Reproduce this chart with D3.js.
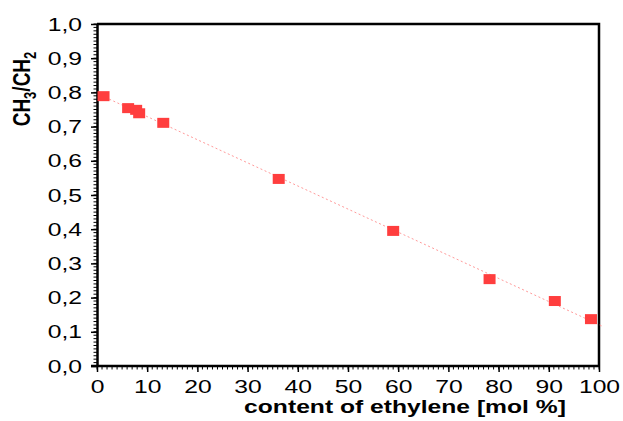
<!DOCTYPE html>
<html>
<head>
<meta charset="utf-8">
<script src="https://cdn.jsdelivr.net/npm/d3@7"></script>
<style>
  body { margin: 0; background: #fff; }
  text { font-family: "Liberation Sans", Arial, sans-serif; fill: #000; }
  .tick-label { font-size: 19px; }
  .axis-title { font-size: 19px; font-weight: bold; }
</style>
</head>
<body>
<svg id="chart" width="623" height="421"></svg>
<script>
// values
const ethylene = [1.3, 6.2, 7.8, 8.4, 13.2, 36.2, 59.0, 78.2, 91.2, 98.4];
const ratio    = [0.789, 0.754, 0.749, 0.739, 0.711, 0.547, 0.395, 0.254, 0.190, 0.137];
const xTicks = [0, 10, 20, 30, 40, 50, 60, 70, 80, 90, 100];
const yTicks = [0, 0.1, 0.2, 0.3, 0.4, 0.5, 0.6, 0.7, 0.8, 0.9, 1.0];
const fitRange = [0, 100.6];

// the original figure is stretched sideways, text too
const stretch = 1.3;

const svg = d3.select("#chart");
const x = d3.scaleLinear().domain([0, 100]).range([97, 599]);
const y = d3.scaleLinear().domain([0, 1]).range([366, 24]);

// least squares fit through the points
const n = ethylene.length;
const mx = d3.mean(ethylene), my = d3.mean(ratio);
let sxy = 0, sxx = 0;
for (let i = 0; i < n; i++) {
    sxy += (ethylene[i] - mx) * (ratio[i] - my);
    sxx += (ethylene[i] - mx) * (ethylene[i] - mx);
}
const slope = sxy / sxx, icpt = my - slope * mx;

// frame (top and right)
svg.append("path")
    .attr("d", `M${x(0)},${y(1)}H${x(100)}V${y(0)}`)
    .attr("fill", "none").attr("stroke", "#000").attr("stroke-width", 2.5);

// fit line
svg.append("line")
    .attr("x1", x(fitRange[0])).attr("y1", y(icpt + slope * fitRange[0]))
    .attr("x2", x(fitRange[1])).attr("y2", y(icpt + slope * fitRange[1]))
    .attr("stroke", "#ff9a9a").attr("stroke-width", 1)
    .attr("stroke-dasharray", "2,2.5");

// minor ticks
const xMinor = d3.range(0, 101, 1);
const yMinor = d3.range(0, 101, 1).map(d => d / 100);
svg.append("g").selectAll("line").data(xMinor).enter().append("line")
    .attr("x1", d => x(d)).attr("x2", d => x(d))
    .attr("y1", y(0)).attr("y2", y(0) + 3.5)
    .attr("stroke", "#000").attr("stroke-width", 1);
svg.append("g").selectAll("line").data(yMinor).enter().append("line")
    .attr("y1", d => y(d)).attr("y2", d => y(d))
    .attr("x1", x(0)).attr("x2", x(0) - 3.5)
    .attr("stroke", "#000").attr("stroke-width", 1);

// axes
const fmt = d => d3.format(".1f")(d).replace(".", ",");
const xAxis = svg.append("g").attr("transform", `translate(0,${y(0)})`)
    .call(d3.axisBottom(x).tickValues(xTicks).tickSize(6).tickPadding(7.5).tickSizeOuter(0));
const yAxis = svg.append("g").attr("transform", `translate(${x(0)},0)`)
    .call(d3.axisLeft(y).tickValues(yTicks).tickFormat(fmt).tickSize(6).tickPadding(9).tickSizeOuter(0));
[xAxis, yAxis].forEach(g => {
    g.select(".domain").attr("stroke-width", 2.5);
    g.selectAll(".tick line").attr("stroke-width", 1.5);
    g.selectAll(".tick text").attr("class", "tick-label")
        .attr("font-family", null).attr("font-size", null)
        .attr("transform", `scale(${stretch},1)`);
});
yAxis.selectAll(".tick text").attr("x", -15 / stretch);
xAxis.select(".domain").attr("d", `M${x(0) - 6},0H${x(100)}`);

// points
svg.append("g").selectAll("rect").data(ethylene).enter().append("rect")
    .attr("x", d => x(d) - 6)
    .attr("y", (d, i) => y(ratio[i]) - 5)
    .attr("width", 12).attr("height", 10)
    .attr("fill", "#ff3e3e");

// titles
svg.append("text").attr("class", "axis-title")
    .attr("transform", `translate(405,413) scale(1.37,1)`)
    .attr("text-anchor", "middle")
    .style("font-size", "18px")
    .text("content of ethylene [mol %]");

const yt = svg.append("text").attr("class", "axis-title")
    .attr("transform", `translate(30,89) scale(1.22,1) rotate(-90)`)
    .attr("text-anchor", "middle");
yt.append("tspan").text("CH");
yt.append("tspan").attr("font-size", "13px").attr("dy", 4.5).text("3");
yt.append("tspan").attr("dy", -4.5).text("/CH");
yt.append("tspan").attr("font-size", "13px").attr("dy", 4.5).text("2");
</script>
</body>
</html>
